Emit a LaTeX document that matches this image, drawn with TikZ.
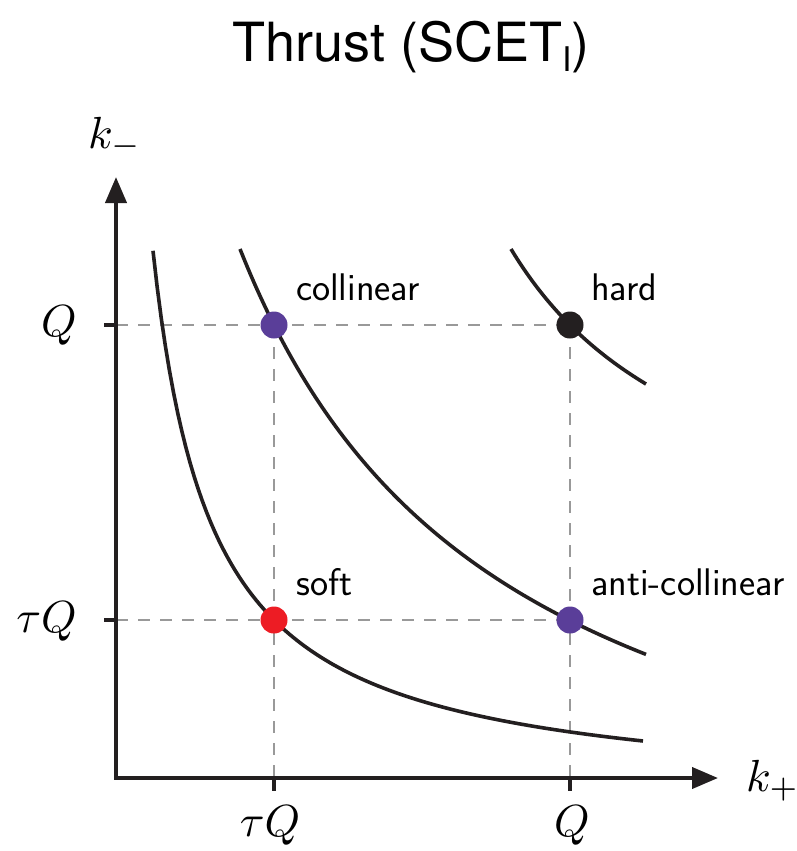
\documentclass[tikz,border=0pt]{standalone}
\usepackage{fontspec}
\newfontfamily\titlefont{TeX Gyre Heros}
\usetikzlibrary{arrows.meta}
\definecolor{axisblack}{HTML}{231F20}
\definecolor{dotpurple}{HTML}{5A3E99}
\definecolor{dotred}{HTML}{ED1C24}
\definecolor{dashgray}{HTML}{999999}
\newcommand{\bigmath}[1]{\scalebox{4.5}{$#1$}}
\tikzset{
  axisline/.style={line width=4pt, draw=axisblack},
  tickline/.style={line width=4pt, draw=axisblack},
  guide/.style={line width=2pt, draw=dashgray, dash pattern=on 12pt off 10pt},
  curveline/.style={line width=3.6pt, draw=axisblack},
  dotnode/.style={circle, inner sep=0pt, minimum size=27pt},
  mathlabel/.style={inner sep=0pt},
  wordlabel/.style={inner sep=0pt, anchor=base west, font=\sffamily\fontsize{38.5}{42}\selectfont},
}
\begin{document}
\begin{tikzpicture}[x=1pt, y=-1pt]
\useasboundingbox (0,0) rectangle (797,851);
% title
\node[inner sep=0pt, anchor=base, font=\titlefont\fontsize{54}{60}\selectfont] (title) at (411,62) {Thrust (SCET\raisebox{-0.17em}{\fontsize{34}{34}\selectfont I})};
% coordinates
\coordinate (origin) at (116,778);
\coordinate (ytip) at (116,177);
\coordinate (xtip) at (718,778);
\coordinate (yQ) at (116,325);
\coordinate (ytQ) at (116,620);
\coordinate (xtQ) at (274,778);
\coordinate (xQ) at (570,778);
\coordinate (yQt) at (104,325);
\coordinate (ytQt) at (104,620);
\coordinate (xtQt) at (274,791);
\coordinate (xQt) at (570,791);
% dashed guides
\node[dotnode] (coll) at (274,325) {};
\node[dotnode] (hard) at (570,325) {};
\node[dotnode] (soft) at (274,620) {};
\node[dotnode] (anti) at (570,620) {};
\draw[guide] (yQ) -- (hard.center);
\draw[guide] (ytQ) -- (anti.center);
\draw[guide] (coll.center) -- (xtQ);
\draw[guide] (hard.center) -- (xQ);
% curves
\draw[curveline] plot[domain=153:643, samples=120] (\x, {800 - 324/((\x-94)/100)});
\draw[curveline] plot[domain=240:646, samples=120] (\x, {920.3 - 1787.68/((\x+26.3)/100)});
\draw[curveline] plot[domain=511:646, samples=60] (\x, {589 - 696.96/((\x-306)/100)});
% axes
\draw[axisline, line join=miter, {Triangle[length=26pt,width=21pt]}-{Triangle[length=26pt,width=21pt]}] (ytip) -- (origin) -- (xtip);
\draw[tickline] (yQt) -- (yQ);
\draw[tickline] (ytQt) -- (ytQ);
\draw[tickline] (xtQ) -- (xtQt);
\draw[tickline] (xQ) -- (xQt);
% dots
\fill[dotpurple] (coll) circle (13.5pt);
\fill[axisblack] (hard) circle (13.5pt);
\fill[dotred] (soft) circle (13.5pt);
\fill[dotpurple] (anti) circle (13.5pt);
% word labels
\node[wordlabel] (lcoll) at (296,300) {collinear};
\node[wordlabel] (lhard) at (591,300) {hard};
\node[wordlabel] (lsoft) at (296,595) {soft};
\node[wordlabel] (lanti) at (591,595) {anti-collinear};
% math labels
\node[mathlabel, anchor=base west] (km) at (88,148) {\bigmath{k_-}};
\node[mathlabel, anchor=base west] (kp) at (746,791) {\bigmath{k_+}};
\node[mathlabel, anchor=base east] (lQ) at (77,336) {\bigmath{Q}};
\node[mathlabel, anchor=base east] (ltQ) at (77,632) {\bigmath{\tau Q}};
\node[mathlabel, anchor=base] (btQ) at (270,836) {\bigmath{\tau Q}};
\node[mathlabel, anchor=base] (bQ) at (572,836) {\bigmath{Q}};
\end{tikzpicture}
\end{document}
